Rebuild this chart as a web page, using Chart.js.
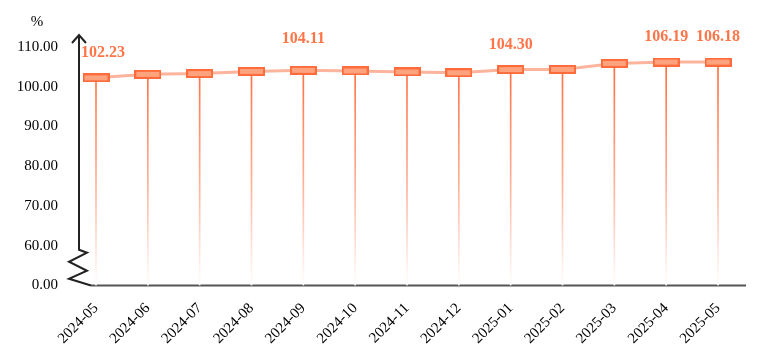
<!DOCTYPE html>
<html>
<head>
<meta charset="utf-8">
<script src="https://cdn.jsdelivr.net/npm/chart.js@4.4.1/dist/chart.umd.min.js"></script>
<style>
  html, body { margin: 0; padding: 0; background: #fff; }
  #wrap { width: 764px; height: 364px; position: relative; }
</style>
</head>
<body>
<div id="wrap"><canvas id="chart"></canvas></div>
<script>
// --- data ---
const categories = ["2024-05", "2024-06", "2024-07", "2024-08", "2024-09", "2024-10", "2024-11",
                    "2024-12", "2025-01", "2025-02", "2025-03", "2025-04", "2025-05"];
const values = [102.23, 103.1, 103.3, 103.85, 104.11, 103.95, 103.7, 103.5, 104.30, 104.35, 105.85, 106.19, 106.18];
const labeledIdx = [0, 4, 8, 11, 12];
const yTickValues = [0, 60, 70, 80, 90, 100, 110];
const unitLabel = "%";

const FONT = "'Liberation Serif', 'DejaVu Serif', serif";

// broken axis: 0 -> 0, 60 -> 1, 70 -> 2 ...
function toAxis(v) { return v >= 60 ? (v - 50) / 10 : v / 60; }

// rectangle marker used for the points
function makeMarker() {
    const c = document.createElement("canvas");
    c.width = 27; c.height = 9;
    const g = c.getContext("2d");
    g.fillStyle = "#ffa37f";
    g.fillRect(1, 1, 25, 7);
    g.strokeStyle = "#ff6b3b";
    g.lineWidth = 2;
    g.strokeRect(1, 1, 25, 7);
    return c;
}

const axisDecor = {
    id: "axisDecor",
    beforeDatasetsDraw(chart) {
        const ctx = chart.ctx;
        const ca = chart.chartArea;
        const ys = chart.scales.y;
        const x0 = ca.left;
        const y60 = ys.getPixelForValue(1);
        const y0 = ys.getPixelForValue(0);
        ctx.save();
        // x axis line
        ctx.strokeStyle = "#555";
        ctx.lineWidth = 2;
        ctx.beginPath();
        ctx.moveTo(x0 + 12, y0);
        ctx.lineTo(ca.right, y0);
        ctx.stroke();
        // y axis with arrow and break
        ctx.strokeStyle = "#222";
        ctx.lineWidth = 2;
        ctx.beginPath();
        ctx.moveTo(x0, ca.top);
        ctx.lineTo(x0, y60 + 4);
        ctx.lineTo(x0 + 8, y60 + 7);
        ctx.lineTo(x0 - 10, y60 + 16);
        ctx.lineTo(x0 + 8, y60 + 25);
        ctx.lineTo(x0 - 10, y60 + 33);
        ctx.lineTo(x0 + 12, y0);
        ctx.stroke();
        ctx.beginPath();
        ctx.moveTo(x0 - 7, ca.top + 8);
        ctx.lineTo(x0, ca.top);
        ctx.lineTo(x0 + 7, ca.top + 8);
        ctx.stroke();
        // unit
        ctx.fillStyle = "#000";
        ctx.font = "15px " + FONT;
        ctx.textAlign = "center";
        ctx.textBaseline = "middle";
        ctx.fillText(unitLabel, 37, 22);
        ctx.restore();
    },
    afterDatasetsDraw(chart) {
        const ctx = chart.ctx;
        const meta = chart.getDatasetMeta(0);
        ctx.save();
        ctx.fillStyle = "#ff7548";
        ctx.font = "bold 16px " + FONT;
        ctx.textAlign = "center";
        ctx.textBaseline = "middle";
        labeledIdx.forEach(i => {
            const p = meta.data[i];
            const dx = i === 0 ? 7 : 0;
            const dy = i === 4 ? 31 : 25;
            ctx.fillText(values[i].toFixed(2), p.x + dx, p.y - dy);
        });
        ctx.restore();
    }
};

const points = values.map((v, i) => ({ x: i, y: toAxis(v) }));

new Chart(document.getElementById("chart"), {
    data: {
        datasets: [
            {
                type: "line",
                order: 0,
                data: points,
                borderColor: "#fcb49c",
                borderWidth: 3,
                pointStyle: makeMarker(),
                pointRadius: 5,
                pointHoverRadius: 5,
                tension: 0,
                clip: false
            },
            {
                type: "bar",
                order: 1,
                data: points,
                barThickness: 1,
                backgroundColor(c) {
                    const ca = c.chart.chartArea;
                    if (!ca) return "#ff7043";
                    const g = c.chart.ctx.createLinearGradient(0, ca.top + 30, 0, ca.bottom);
                    g.addColorStop(0, "#ff6e40");
                    g.addColorStop(0.55, "#ffb39b");
                    g.addColorStop(1, "#ffffff");
                    return g;
                }
            }
        ]
    },
    options: {
        responsive: true,
        maintainAspectRatio: false,
        animation: false,
        layout: { padding: { top: 35, right: 18, left: 0, bottom: 0 } },
        plugins: { legend: { display: false }, tooltip: { enabled: false } },
        scales: {
            x: {
                type: "linear",
                offset: false,
                min: -0.328,
                max: 12.54,
                grid: { display: false, drawTicks: false, offset: false },
                border: { display: false },
                afterBuildTicks(scale) { scale.ticks = categories.map((c, i) => ({ value: i })); },
                afterFit(scale) { scale.height = 78.5; scale.paddingLeft = 0; scale.paddingRight = 0; },
                ticks: {
                    autoSkip: false,
                    minRotation: 45,
                    maxRotation: 45,
                    padding: 14,
                    color: "#000",
                    font: { family: FONT, size: 15 },
                    callback: (val, i) => categories[i]
                }
            },
            y: {
                type: "linear",
                min: 0,
                max: 6.3,
                grid: { display: false, drawTicks: false },
                border: { display: false },
                afterBuildTicks(scale) { scale.ticks = yTickValues.map(v => ({ value: toAxis(v) })); },
                afterFit(scale) { scale.width = 79; },
                ticks: {
                    padding: 21,
                    color: "#000",
                    font: { family: FONT, size: 15 },
                    callback: (val, i) => yTickValues[i].toFixed(2)
                }
            }
        }
    },
    plugins: [axisDecor]
});
</script>
</body>
</html>
